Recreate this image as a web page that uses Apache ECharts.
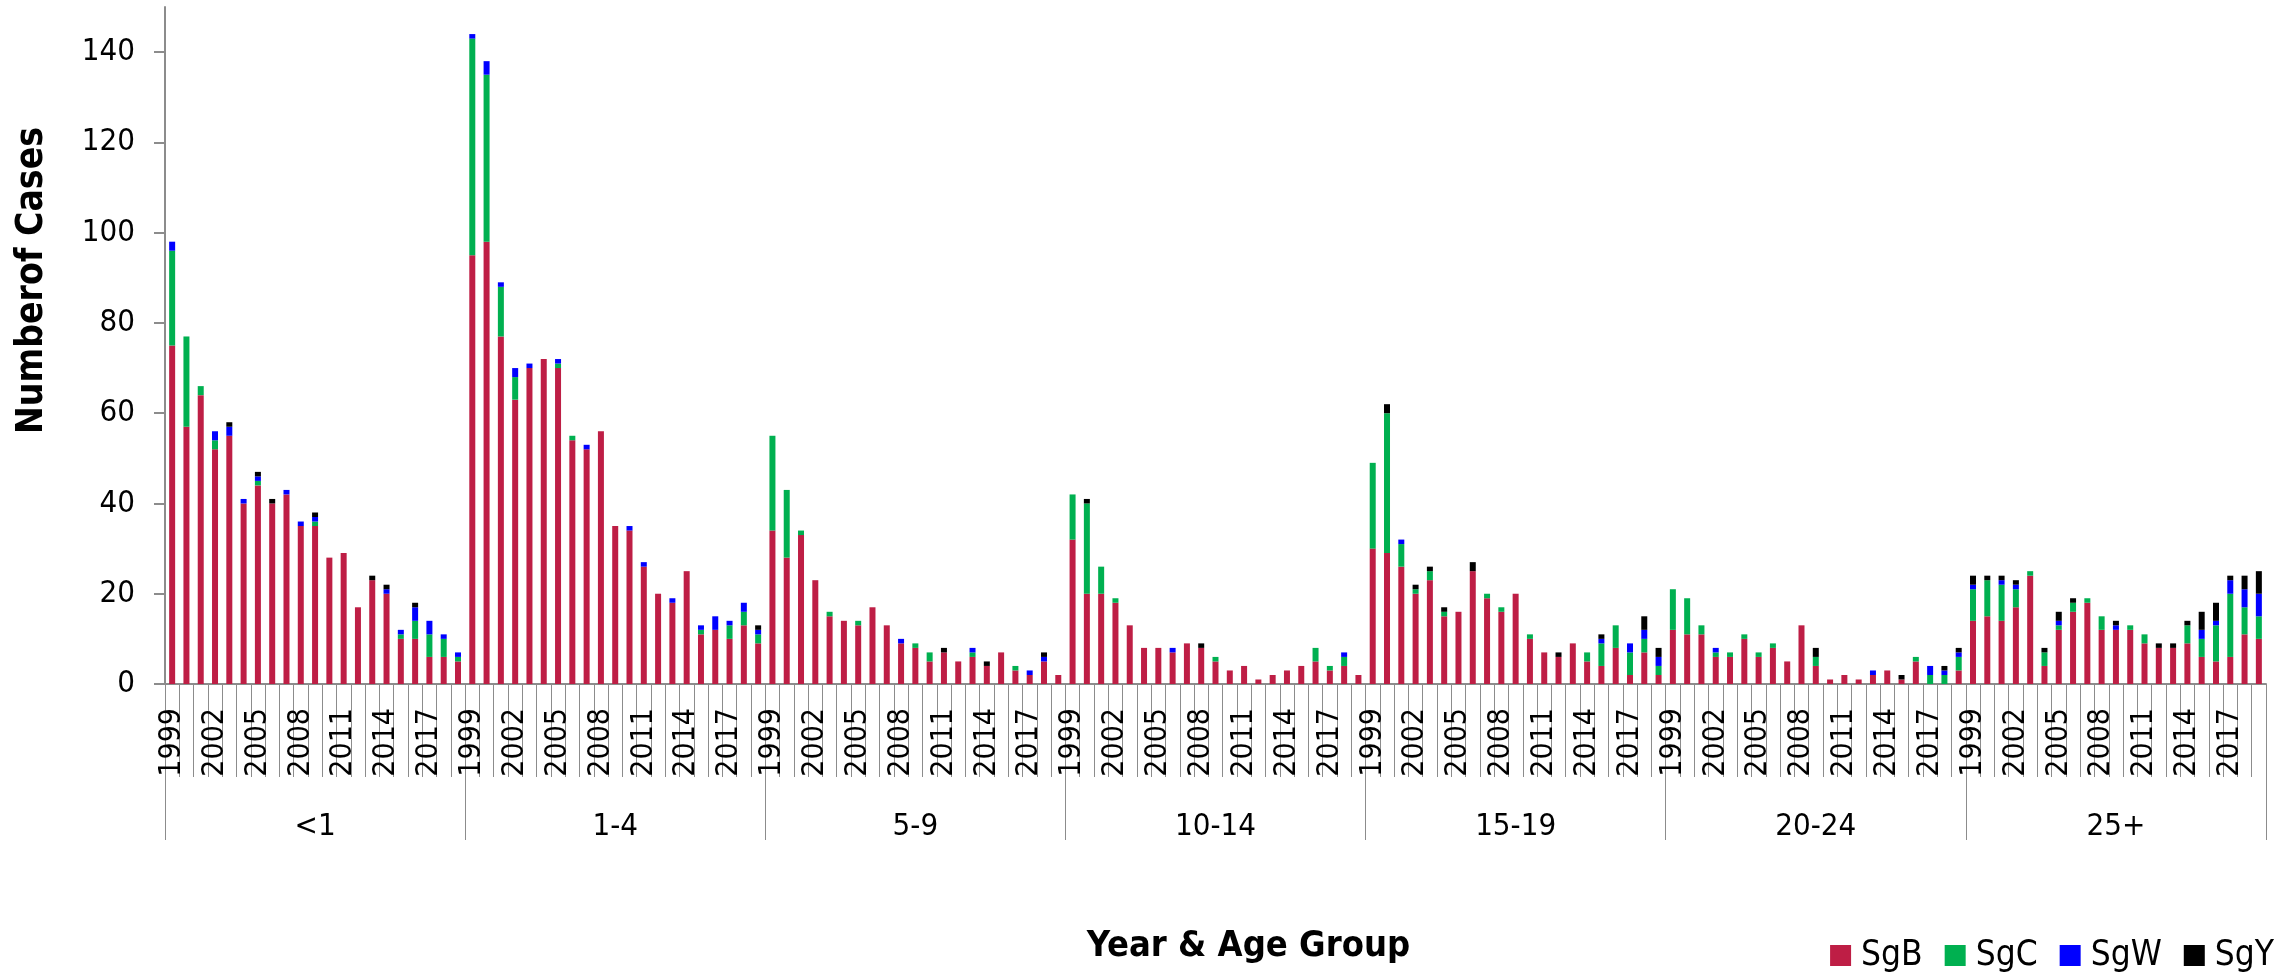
<!DOCTYPE html>
<html>
<head>
<meta charset="utf-8">
<script src="https://cdn.jsdelivr.net/npm/echarts@6/dist/echarts.min.js"></script>
<style>
html,body{margin:0;padding:0;background:#fff;}
#chart{width:2295px;height:976px;}
</style>
</head>
<body>
<div id="chart"></div>
<script>
// Years within each age group
var years = [1999,2000,2001,2002,2003,2004,2005,2006,2007,2008,2009,2010,2011,2012,2013,2014,2015,2016,2017,2018,2019];
// Age groups
var ageGroups = ['<1','1-4','5-9','10-14','15-19','20-24','25+'];
// Y tick labels
var yTicks = [0,20,40,60,80,100,120,140];

// Serogroup B, per age group (1999..2019)
var sgB = [
  [75,57,64,52,55,40,44,40,42,35,35,28,29,17,23,20,10,10,6,6,5],
  [95,98,77,63,70,72,70,54,52,56,35,34,26,20,18,25,11,12,10,13,9],
  [34,28,33,23,15,14,13,17,13,9,8,5,7,5,6,4,7,3,2,5,2],
  [32,20,20,18,13,8,8,7,9,8,5,3,4,1,2,3,4,5,3,4,2],
  [30,29,26,20,23,15,16,25,19,16,20,10,7,6,9,5,4,8,2,7,2],
  [12,11,11,6,6,10,6,8,5,13,4,1,2,1,2,3,1,5,0,0,3],
  [14,15,14,17,24,4,12,16,18,12,12,12,9,8,8,9,6,5,6,11,10]
];
// Serogroup C
var sgC = [
  [21,20,2,2,0,0,1,0,0,0,1,0,0,0,0,0,1,4,5,4,1],
  [48,37,11,5,0,0,1,1,0,0,0,0,0,0,0,0,1,0,3,3,2],
  [21,15,1,0,1,0,1,0,0,0,1,2,0,0,1,0,0,1,0,0,0],
  [10,20,6,1,0,0,0,0,0,0,1,0,0,0,0,0,0,3,1,2,0],
  [19,31,5,1,2,1,0,0,1,1,0,1,0,0,0,2,5,5,5,3,2],
  [9,8,2,1,1,1,1,1,0,0,2,0,0,0,0,0,0,1,2,2,3],
  [7,8,8,4,1,3,1,2,1,3,0,1,2,0,0,4,4,8,14,6,5]
];
// Serogroup W
var sgW = [
  [2,0,0,2,2,1,1,0,1,1,1,0,0,0,0,1,1,3,3,1,1],
  [1,3,1,2,1,0,1,0,1,0,0,1,1,0,1,0,1,3,1,2,1],
  [0,0,0,0,0,0,0,0,0,1,0,0,0,0,1,0,0,0,1,1,0],
  [0,0,0,0,0,0,0,1,0,0,0,0,0,0,0,0,0,0,0,1,0],
  [0,0,1,0,0,0,0,0,0,0,0,0,0,0,0,0,1,0,2,2,2],
  [0,0,0,1,0,0,0,0,0,0,0,0,0,0,1,0,0,0,2,1,1],
  [1,0,1,1,0,0,1,0,0,0,1,0,0,0,0,0,2,1,3,4,5]
];
// Serogroup Y
var sgY = [
  [0,0,0,0,1,0,1,1,0,0,1,0,0,0,1,1,0,1,0,0,0],
  [0,0,0,0,0,0,0,0,0,0,0,0,0,0,0,0,0,0,0,0,1],
  [0,0,0,0,0,0,0,0,0,0,0,0,1,0,0,1,0,0,0,1,0],
  [0,1,0,0,0,0,0,0,0,1,0,0,0,0,0,0,0,0,0,0,0],
  [0,2,0,1,1,1,0,2,0,0,0,0,0,1,0,0,1,0,0,3,2],
  [0,0,0,0,0,0,0,0,0,0,2,0,0,0,0,0,1,0,0,1,1],
  [2,1,1,1,0,1,2,1,0,0,1,0,0,1,1,1,4,4,1,3,5]
];

var FONT = '"DejaVu Sans Condensed","DejaVu Sans",sans-serif';
var categories = [];
ageGroups.forEach(function(g){ years.forEach(function(y){ categories.push(y + '|' + g); }); });
function flat(a){ return [].concat.apply([], a); }
var nY = years.length;
var axisGray = '#8c8c8c';

var chart = echarts.init(document.getElementById('chart'), null, {renderer:'canvas'});
chart.setOption({
  animation: false,
  backgroundColor: '#ffffff',
  textStyle: {fontFamily: FONT},
  grid: {left: 165, right: 29, top: 7, bottom: 292, containLabel: false, outerBoundsMode: 'none'},
  legend: {
    data: ['SgB','SgC','SgW','SgY'],
    right: 16, top: 933,
    icon: 'rect', itemWidth: 21, itemHeight: 21, itemGap: 22,
    textStyle: {fontFamily: FONT, fontSize: 35, color: '#000', padding: [0,0,0,5]}
  },
  xAxis: [{
    type: 'category',
    data: categories,
    position: 'bottom',
    axisLine: {show: true, lineStyle: {color: axisGray, width: 2}},
    axisTick: {show: true, interval: 0, length: 93, lineStyle: {color: axisGray, width: 1}},
    axisLabel: {
      interval: function(i){ return (i % nY) % 3 === 0; },
      formatter: function(v){ return v.split('|')[0]; },
      rotate: 90, margin: 24, hideOverlap: false,
      fontFamily: FONT, fontSize: 30, color: '#000'
    },
    name: 'Year & Age Group',
    nameLocation: 'middle', nameGap: 245,
    nameTextStyle: {fontFamily: FONT, fontWeight: 'bold', fontSize: 36, color: '#000', padding: [0,0,0,66]}
  },{
    type: 'category',
    data: ageGroups,
    position: 'bottom',
    offset: 0,
    axisLine: {show: false},
    axisTick: {show: true, interval: 0, length: 156, lineStyle: {color: axisGray, width: 1}},
    axisLabel: {interval: 0, margin: 127, fontFamily: FONT, fontSize: 31, color: '#000'}
  }],
  yAxis: {
    type: 'value',
    min: 0, max: 150,
    axisLine: {show: true, lineStyle: {color: axisGray, width: 2}},
    axisTick: {show: true, length: 11, customValues: yTicks, lineStyle: {color: axisGray, width: 2}},
    splitLine: {show: false},
    axisLabel: {customValues: yTicks, margin: 30, fontFamily: FONT, fontSize: 31, color: '#000'},
    name: 'Numberof Cases',
    nameLocation: 'middle', nameGap: 114,
    nameTextStyle: {fontFamily: FONT, fontWeight: 'bold', fontSize: 37, color: '#000', padding: [0,0,0,130]}
  },
  series: [
    {name: 'SgB', type: 'bar', stack: 'total', data: flat(sgB), barWidth: 6, itemStyle: {color: '#BE1E45'}},
    {name: 'SgC', type: 'bar', stack: 'total', data: flat(sgC), barWidth: 6, itemStyle: {color: '#00B050'}},
    {name: 'SgW', type: 'bar', stack: 'total', data: flat(sgW), barWidth: 6, itemStyle: {color: '#0000FF'}},
    {name: 'SgY', type: 'bar', stack: 'total', data: flat(sgY), barWidth: 6, itemStyle: {color: '#000000'}}
  ]
});
</script>
</body>
</html>
